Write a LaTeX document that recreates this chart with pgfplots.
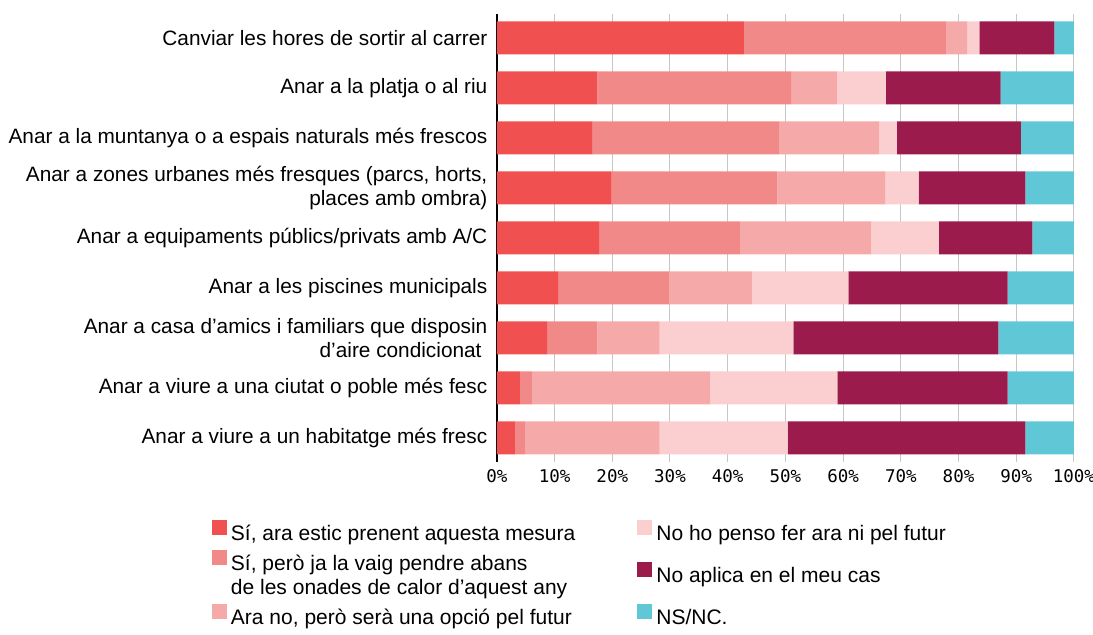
\documentclass[border=0pt]{standalone}
\usepackage{fontspec}
\setmainfont{Liberation Sans}
\newfontfamily\monofont{DejaVu Sans Mono}
\usepackage{pgfplots}
\pgfplotsset{compat=1.18}

\definecolor{c1}{HTML}{F05050}
\definecolor{c2}{HTML}{F28989}
\definecolor{c3}{HTML}{F6A9A9}
\definecolor{c4}{HTML}{FBCFCF}
\definecolor{c5}{HTML}{9B1C4C}
\definecolor{c6}{HTML}{5FC7D5}

% square raised to the first line of a two-line legend entry
\pgfplotsset{squp/.style={legend image code/.code={%
  \fill[##1] (0pt,10.5pt) rectangle (15pt,25.5pt); \path (0pt,-12.5pt);}}}

\begin{document}
\begin{tikzpicture}
\begin{axis}[
  scale only axis,
  width=577pt, height=448pt,
  xbar stacked,
  bar width=33pt,
  xmin=0, xmax=100,
  ymin=-0.48, ymax=8.48,
  ytick={0,...,8},
  yticklabels={
    Anar a viure a un habitatge més fresc,
    Anar a viure a una ciutat o poble més fesc,
    {Anar a casa d’amics i familiars que disposin\\d’aire condicionat\ \ },
    Anar a les piscines municipals,
    Anar a equipaments públics/privats amb A/C,
    {Anar a zones urbanes més fresques (parcs, horts,\\places amb ombra)},
    Anar a la muntanya o a espais naturals més frescos,
    Anar a la platja o al riu,
    Canviar les hores de sortir al carrer},
  yticklabel style={align=right, font=\fontsize{20.8}{24}\selectfont, xshift=-6pt},
  xtick={0,10,...,100},
  xticklabel={\pgfmathprintnumber{\tick}\%},
  xticklabel style={font=\monofont\fontsize{17.5}{20}\selectfont, yshift=-4pt},
  /pgf/number format/assume math mode=true,
  major tick length=0pt,
  axis x line*=bottom,
  axis y line*=left,
  x axis line style={draw=none},
  y axis line style={black, line width=1.5pt},
  xmajorgrids,
  grid style={black!22, line width=1pt},
  legend columns=3,
  transpose legend,
  legend cell align=left,
  legend image code/.code={\fill[#1] (0pt,-1pt) rectangle (15pt,14pt);},
  legend style={
    at={(-0.494,-0.128)}, anchor=north west,
    draw=none, inner sep=0pt,
    font=\fontsize{21}{23}\selectfont,
    cells={align=left},
    row sep=6pt,
    /tikz/every odd column/.append style={column sep=2pt},
    /tikz/every even column/.append style={column sep=60pt},
  },
  clip=false,
]
\addplot[draw=none, fill=c1] coordinates {
  (3.1,0) (4.0,1) (8.7,2) (10.6,3) (17.7,4) (19.9,5) (16.6,6) (17.4,7) (42.8,8)};
\addlegendentry{Sí, ara estic prenent aquesta mesura}
\addplot[draw=none, fill=c2, squp] coordinates {
  (1.9,0) (2.2,1) (8.7,2) (19.2,3) (24.4,4) (28.7,5) (32.4,6) (33.6,7) (35.0,8)};
\addlegendentry{Sí, però ja la vaig pendre abans\\de les onades de calor d’aquest any}
\addplot[draw=none, fill=c3] coordinates {
  (23.2,0) (30.8,1) (10.8,2) (14.4,3) (22.8,4) (18.7,5) (17.3,6) (7.9,7) (3.7,8)};
\addlegendentry{Ara no, però serà una opció pel futur}
\addplot[draw=none, fill=c4] coordinates {
  (22.2,0) (22.0,1) (23.2,2) (16.7,3) (11.7,4) (5.8,5) (3.0,6) (8.5,7) (2.1,8)};
\addlegendentry{No ho penso fer ara ni pel futur}
\addplot[draw=none, fill=c5] coordinates {
  (41.2,0) (29.5,1) (35.5,2) (27.6,3) (16.2,4) (18.5,5) (21.5,6) (19.9,7) (13.0,8)};
\addlegendentry{No aplica en el meu cas}
\addplot[draw=none, fill=c6] coordinates {
  (8.4,0) (11.5,1) (13.1,2) (11.5,3) (7.2,4) (8.4,5) (9.2,6) (12.7,7) (3.4,8)};
\addlegendentry{NS/NC.}
\coordinate (tl) at (rel axis cs:-0.861,1.031);
\coordinate (br) at (rel axis cs:1.033,-0.384);
\end{axis}
\pgfresetboundingbox
\path[use as bounding box] (tl) rectangle (br);
\end{tikzpicture}
\end{document}
